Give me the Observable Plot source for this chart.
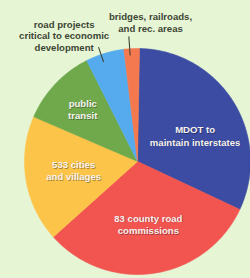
<!DOCTYPE html>
<html><head><meta charset="utf-8">
<script src="https://cdn.jsdelivr.net/npm/d3@7"></script>
<script src="https://cdn.jsdelivr.net/npm/@observablehq/plot@0.6"></script>
<style>html,body{margin:0;padding:0;background:#e6f5d4;}</style>
</head><body><div id="chart"></div>
<script>
// ---- data ----
const categories = ["MDOT to maintain interstates", "83 county road commissions", "533 cities and villages", "public transit", "road projects critical to economic development", "bridges, railroads, and rec. areas"];
const shares = [31.7, 31.4, 18.1, 11.1, 5.5, 2.2];
const labelText = ["MDOT to\nmaintain interstates", "83 county road\ncommissions", "533 cities\nand villages", "public\ntransit", "road projects\ncritical to economic\ndevelopment", "bridges, railroads,\nand rec. areas"];
const colors = ["#3b4ca2", "#f25450", "#fdc44a", "#6fa94c", "#56abef", "#f5794f"];

// ---- layout (not data) ----
const W = 250, H = 278, CX = 137, CY = 161, R = 113;
const labelRadius = [0.56, 0.56, 0.57, 0.67, 1.29, 1.24];
const labelShift = [7.5, -1.5, 1.5, 0.4, -13.4, 8.3]; // degrees
const outside = [false, false, false, false, true, true];
const leader = [null, null, null, null, [0.93, 1.07], [0.94, 1.11]];
const leaderShift = [0, 0, 0, 0, -2, -1];

const rad = d => d * Math.PI / 180;
const arcs = d3.pie().sort(null).startAngle(rad(1)).endAngle(rad(361))(shares);

const polar = (a, r) => ({x: r * Math.sin(a), y: r * Math.cos(a)});

// slice polygons
const poly = [];
arcs.forEach((a, i) => {
  const key = categories[i];
  poly.push({key, ...polar(0, 0)});
  const n = Math.max(2, Math.ceil((a.endAngle - a.startAngle) / rad(0.5)));
  for (let k = 0; k <= n; k++) {
    const t = a.startAngle + (a.endAngle - a.startAngle) * k / n;
    poly.push({key, ...polar(t, 1)});
  }
  poly.push({key, ...polar(0, 0)});
});

const labels = arcs.map((a, i) => {
  const mid = (a.startAngle + a.endAngle) / 2 + rad(labelShift[i]);
  return {key: categories[i], text: labelText[i], out: outside[i], ...polar(mid, labelRadius[i])};
});
const links = [];
arcs.forEach((a, i) => {
  if (!leader[i]) return;
  const mid = (a.startAngle + a.endAngle) / 2 + rad(leaderShift[i]);
  const p1 = polar(mid, leader[i][1]), p2 = polar(mid, leader[i][0]);
  links.push({x1: p1.x, y1: p1.y, x2: p2.x, y2: p2.y});
});

const font = "'Liberation Sans', Arial, sans-serif";
const chart = Plot.plot({
  width: W, height: H,
  margin: 0,
  x: {domain: [-CX / R, (W - CX) / R], range: [0, W], axis: null},
  y: {domain: [(CY - H) / R, CY / R], range: [H, 0], axis: null},
  color: {domain: categories, range: colors},
  style: {background: "#e6f5d4", fontFamily: font},
  marks: [
    Plot.line(poly, {x: "x", y: "y", z: "key", fill: "key", stroke: "key", strokeWidth: 0.6, curve: "linear"}),
    Plot.link(links, {x1: "x1", y1: "y1", x2: "x2", y2: "y2", stroke: "#3f4637", strokeWidth: 1.1}),
    Plot.text(labels.filter(d => !d.out), {x: "x", y: "y", text: "text", dx: 0.7, dy: 0.7, fill: "#000", fillOpacity: 0.35, fontSize: 9.6, fontWeight: "bold", lineHeight: 1.3, fontFamily: font}),
    Plot.text(labels.filter(d => !d.out), {x: "x", y: "y", text: "text", fill: "#f6f2f0", fontSize: 9.6, fontWeight: "bold", lineHeight: 1.3, fontFamily: font}),
    Plot.text(labels.filter(d => d.out), {x: "x", y: "y", text: "text", fill: "#3d4535", fontSize: 9.6, fontWeight: "bold", lineHeight: 1.22, fontFamily: font})
  ]
});
document.getElementById("chart").appendChild(chart);
</script>
</body></html>
